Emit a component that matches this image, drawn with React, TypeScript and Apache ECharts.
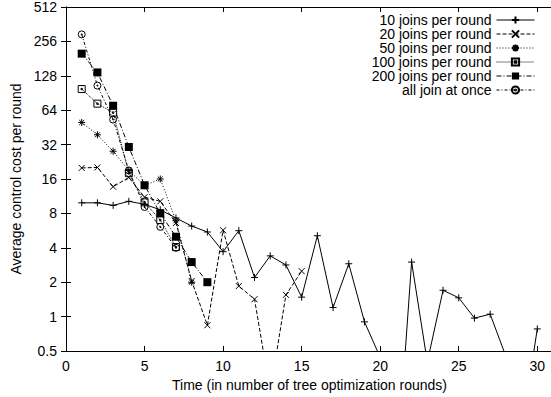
import React, { useEffect, useRef } from "react";
import * as echarts from "echarts";

// ---- data ----
const seriesNames = [
  "10 joins per round",
  "20 joins per round",
  "50 joins per round",
  "100 joins per round",
  "200 joins per round",
  "all join at once",
];
const joins10 = [9.9, 9.9, 9.4, 10.2, 9.6, 8.6, 7.3, 6.2, 5.5, 3.7, 5.65, 2.2, 3.4, 2.83, 1.48, 5.1, 1.2, 2.9, 0.9, 0.44, 0.035, 3.0, 0.4, 1.7, 1.46, 0.97, 1.05, 0.45, 0.1, 0.78];
const joins20 = [20, 20.2, 13.7, 16.5, 11.1, 10.2, 6.6, 2.05, 0.84, 5.7, 1.85, 1.42, 0.22, 1.55, 2.5];
const joins50 = [50, 39, 28, 19, 14, 16, 6.9, 2.0];
const joins100 = [98, 73, 61, 18, 10, 7.0, 4.06];
const joins200 = [200, 137, 70, 30.5, 14.1, 8.0, 5.0, 3.0, 2.0];
const allJoin = [295, 105, 53, 19, 9.1, 6.1, 4.0];
const xTickValues = [0, 5, 10, 15, 20, 25, 30];
const yTickValues = [0.5, 1, 2, 4, 8, 16, 32, 64, 128, 256, 512];

const FONT = "'Liberation Sans', Arial, Helvetica, sans-serif";

const SYM_PLUS = "path://M5,0L5,10M0,5L10,5";
const SYM_CROSS = "path://M0,0L10,10M10,0L0,10";
const SYM_STAR = "path://M5,0L5,10M0,5L10,5M1.5,1.5L8.5,8.5M8.5,1.5L1.5,8.5";
const SYM_BOXDOT = "path://M0,0L10,0L10,10L0,10ZM4,4L6,4L6,6L4,6Z";
const SYM_CIRCLEDOT = "path://M0,5A5,5,0,1,1,10,5A5,5,0,1,1,0,5ZM4.2,5A0.8,0.8,0,1,1,5.8,5A0.8,0.8,0,1,1,4.2,5Z";

function toPairs(vals: number[]) {
  return vals.map((v, i) => [i + 1, v]);
}

export default function App() {
  const ref = useRef<HTMLDivElement>(null);
  useEffect(() => {
    if (!ref.current) return;
    const chart = echarts.init(ref.current, undefined, { renderer: "svg" });
    const strokeSym = (sym: string, size: number, dash: any, data: number[], name: string) => ({
      name,
      type: "line",
      data: toPairs(data),
      symbol: sym,
      symbolSize: size,
      clip: true,
      lineStyle: { color: "#000", width: 1, type: dash },
      itemStyle: { color: "transparent", borderColor: "#000", borderWidth: 1 },
      emphasis: { disabled: true },
    });
    const axisBase = {
      axisLine: { show: true, lineStyle: { color: "#000", width: 1 } },
      axisTick: { show: true, inside: true, length: 5, lineStyle: { color: "#000" } },
      splitLine: { show: false },
    };
    chart.setOption({
      animation: false,
      backgroundColor: "#fff",
      textStyle: { fontFamily: FONT },
      grid: { left: 66, right: 3, top: 7, bottom: 46 },
      legend: {
        orient: "vertical",
        right: 21,
        top: 13,
        padding: 0,
        align: "right",
        itemWidth: 38,
        itemHeight: 9,
        itemGap: 0,
        data: seriesNames,
        lineStyle: { width: 1 },
        textStyle: { fontSize: 14, lineHeight: 14, color: "#000", fontFamily: FONT },
      },
      xAxis: [
        {
          type: "value",
          min: 0,
          max: 31,
          interval: 5,
          ...axisBase,
          name: "Time (in number of tree optimization rounds)",
          nameLocation: "middle",
          nameGap: 27,
          nameTextStyle: { fontSize: 14, color: "#000", fontFamily: FONT },
          axisLabel: {
            fontSize: 14,
            color: "#000",
            margin: 8,
            fontFamily: FONT,
            formatter: (v: number) => (xTickValues.includes(v) ? String(v) : ""),
          },
        },
        {
          type: "value",
          position: "top",
          min: 0,
          max: 31,
          interval: 5,
          ...axisBase,
          axisLabel: { show: false },
        },
      ],
      yAxis: [
        {
          type: "log",
          logBase: 2,
          min: 0.5,
          max: 512,
          interval: 1,
          ...axisBase,
          name: "Average control cost per round",
          nameLocation: "middle",
          nameGap: 42,
          nameTextStyle: { fontSize: 14, color: "#000", fontFamily: FONT },
          axisLabel: {
            fontSize: 14,
            color: "#000",
            margin: 9,
            fontFamily: FONT,
            formatter: (v: number) => {
              const m = yTickValues.find((t) => Math.abs(t - v) / t < 1e-6);
              return m !== undefined ? String(m) : "";
            },
          },
        },
        {
          type: "log",
          logBase: 2,
          min: 0.5,
          max: 512,
          interval: 1,
          position: "right",
          ...axisBase,
          axisLabel: { show: false },
        },
      ],
      series: [
        strokeSym(SYM_PLUS, 7, "solid", joins10, seriesNames[0]),
        strokeSym(SYM_CROSS, 6, [4, 2], joins20, seriesNames[1]),
        strokeSym(SYM_STAR, 7, [1, 2], joins50, seriesNames[2]),
        strokeSym(SYM_BOXDOT, 7, [1, 1], joins100, seriesNames[3]),
        {
          name: seriesNames[4],
          type: "line",
          data: toPairs(joins200),
          symbol: "rect",
          symbolSize: 8,
          clip: true,
          lineStyle: { color: "#000", width: 1, type: [5, 2, 1, 2] },
          itemStyle: { color: "#000", borderColor: "#000", borderWidth: 0 },
          emphasis: { disabled: true },
        },
        strokeSym(SYM_CIRCLEDOT, 7, [3, 2, 1, 2], allJoin, seriesNames[5]),
      ],
    });
    return () => chart.dispose();
  }, []);
  return (
    <div style={{ position: "fixed", left: 0, top: 0, width: 551, height: 397, overflow: "hidden", background: "#fff" }}>
      <div ref={ref} style={{ width: 556, height: 397 }} />
    </div>
  );
}
